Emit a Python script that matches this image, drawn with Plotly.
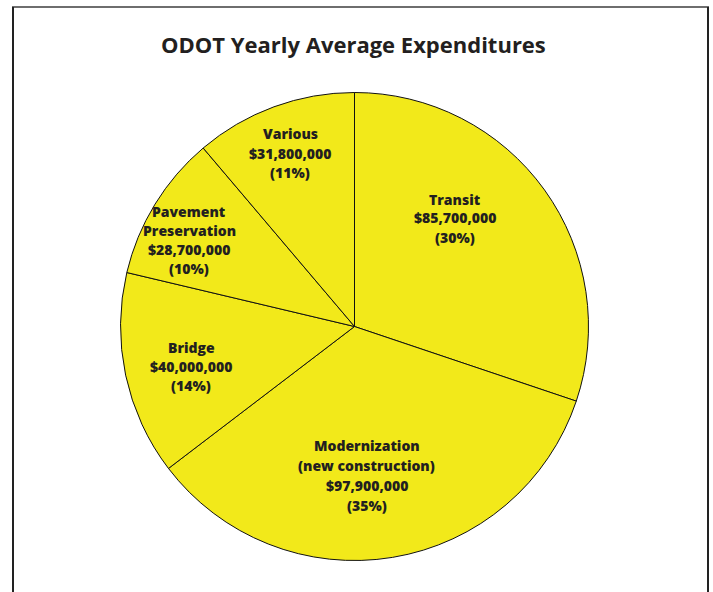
import plotly.graph_objects as go

# ---- data ----
categories = ["Transit", "Modernization", "Bridge", "Pavement Preservation", "Various"]
label_lines = [
    ["Transit"],
    ["Modernization", "(new construction)"],
    ["Bridge"],
    ["Pavement", "Preservation"],
    ["Various"],
]
amounts = [85700000, 97900000, 40000000, 28700000, 31800000]
percent_labels = ["30%", "35%", "14%", "10%", "11%"]

W, H = 713, 592
YELLOW = "#F2E91A"
TEXT = "#231F20"
FONT = "Open Sans"

# label block centres (pixels) and line spacing
label_centers = [(455, 218), (367, 475), (191, 366), (189, 240), (290, 153)]
line_gap = [19, 20, 19, 19, 19]

# pie geometry in pixels
cx, cy, R = 354.5, 326.5, 234

fig = go.Figure(go.Pie(
    labels=categories,
    values=amounts,
    sort=False,
    direction="clockwise",
    rotation=0,
    textinfo="none",
    marker=dict(colors=[YELLOW] * len(amounts), line=dict(color="#111111", width=1)),
    domain=dict(x=[(cx - R) / W, (cx + R) / W], y=[1 - (cy + R) / H, 1 - (cy - R) / H]),
    showlegend=False,
    hovertemplate="%{label}<br>$%{value:,}<extra></extra>",
))

annotations = []
for i in range(len(categories)):
    lines = label_lines[i] + ["${:,}".format(amounts[i]), "(" + percent_labels[i] + ")"]
    x0, y0 = label_centers[i]
    n = len(lines)
    for k, t in enumerate(lines):
        py = y0 + (k - (n - 1) / 2) * line_gap[i]
        annotations.append(dict(
            x=x0 / W, y=1 - py / H, xref="paper", yref="paper",
            text=t, showarrow=False,
            xanchor="center", yanchor="middle",
            font=dict(family=FONT, size=14, color=TEXT, weight=800),
        ))

annotations.append(dict(
    x=353 / W, y=1 - 44 / H, xref="paper", yref="paper",
    text="ODOT Yearly Average Expenditures", showarrow=False,
    xanchor="center", yanchor="middle",
    font=dict(family=FONT, size=22, color=TEXT, weight=700),
))

shapes = [
    dict(type="line", xref="paper", yref="paper", x0=12 / W, x1=709 / W, y0=1 - 7 / H, y1=1 - 7 / H,
         line=dict(color="#6E6E6E", width=2)),
    dict(type="line", xref="paper", yref="paper", x0=13 / W, x1=13 / W, y0=1 - 7 / H, y1=-0.05,
         line=dict(color="#222222", width=2)),
    dict(type="line", xref="paper", yref="paper", x0=708 / W, x1=708 / W, y0=1 - 7 / H, y1=-0.05,
         line=dict(color="#222222", width=2)),
]

fig.update_layout(
    width=W, height=H,
    margin=dict(l=0, r=0, t=0, b=0),
    paper_bgcolor="white", plot_bgcolor="white",
    annotations=annotations,
    shapes=shapes,
)

fig.write_html(
    "out.html",
    config={"displayModeBar": False},
    post_script="document.body.style.margin='0';document.body.style.overflow='hidden';",
)
